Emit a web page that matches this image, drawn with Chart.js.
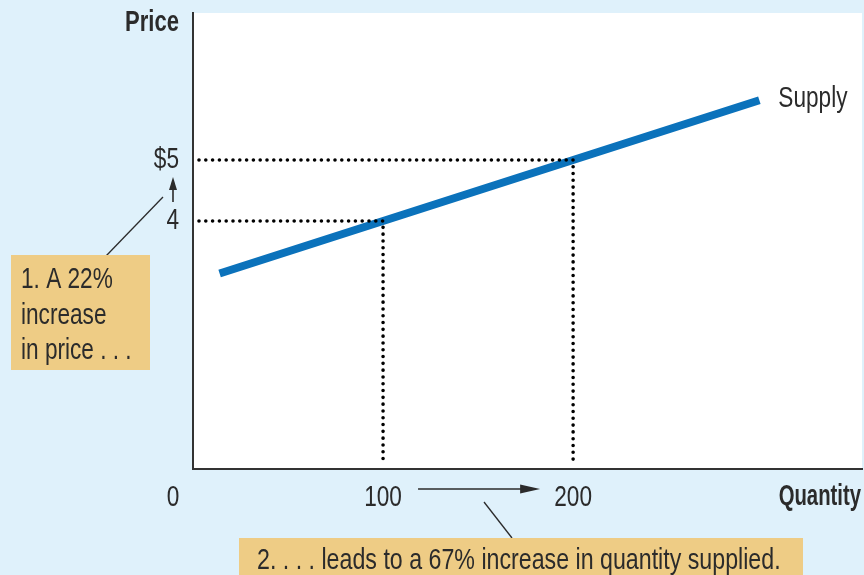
<!DOCTYPE html>
<html>
<head>
<meta charset="utf-8">
<script src="https://cdn.jsdelivr.net/npm/chart.js@4.4.1/dist/chart.umd.min.js"></script>
<style>
  html, body { margin: 0; padding: 0; background: #dff1fb; }
  #wrap { width: 864px; height: 575px; }
</style>
</head>
<body>
<div id="wrap"><canvas id="supplyChart" width="864" height="575"></canvas></div>
<script>
// data
var supplyQty = [14, 100, 200, 298];
var supplyPrice = [3.14, 4, 5, 5.98];
var xTicks = [0, 100, 200];
var xTickLabels = ['0', '100', '200'];
var yTicks = [4, 5];
var yTickLabels = ['4', '$5'];
var noteLow = { qty: 100, price: 4 };
var noteHigh = { qty: 200, price: 5 };
var priceNote = ['1. A 22%', 'increase', 'in price . . .'];
var qtyNote = '2. . . . leads to a 67% increase in quantity supplied.';

var FONT = '"Liberation Sans", Arial, sans-serif';
var INK = '#2b2b2b';

function toPoints(xs, ys) {
    return xs.map(function (x, i) { return { x: x, y: ys[i] }; });
}

// condensed text: the plain font squeezed sideways
function txt(c, s, x, y, align, bold, squeeze) {
    c.save();
    c.translate(x, y);
    c.scale(squeeze || (bold ? 0.72 : 0.78), 1);
    c.font = (bold ? 'bold ' : '') + '29px ' + FONT;
    c.textAlign = align || 'left';
    c.textBaseline = 'alphabetic';
    c.fillText(s, 0, 0);
    c.restore();
}

var dotted = {
    borderColor: '#000',
    borderWidth: 3.6,
    borderDash: [0, 6.8],
    borderDashOffset: -6,
    borderCapStyle: 'round',
    pointRadius: 0,
    showLine: true,
    fill: false,
    tension: 0
};

// draws background, labels, boxes and arrows
var decorPlugin = {
    id: 'decor',
    beforeDraw: function (chart) {
        var c = chart.ctx, a = chart.chartArea;
        c.save();
        c.fillStyle = '#dff1fb';
        c.fillRect(0, 0, chart.width, chart.height);
        c.fillStyle = '#ffffff';
        c.fillRect(a.left, a.top, a.right - a.left, a.bottom - a.top);
        c.restore();
    },
    afterDraw: function (chart) {
        var c = chart.ctx, a = chart.chartArea;
        var xs = chart.scales.x, ys = chart.scales.y;
        c.save();
        c.fillStyle = INK;
        c.strokeStyle = INK;

        // tick labels, placed by the scales
        xs.ticks.forEach(function (t) {
            var i = xTicks.indexOf(t.value);
            var px = xs.getPixelForValue(t.value);
            if (i === 0) px -= 20;
            txt(c, xTickLabels[i], px, a.bottom + 37, 'center');
        });
        ys.ticks.forEach(function (t) {
            var i = yTicks.indexOf(t.value);
            txt(c, yTickLabels[i], a.left - 14, ys.getPixelForValue(t.value) + 8, 'right');
        });

        // axis titles
        txt(c, 'Price', a.left - 14, 31, 'right', true, 0.76);
        txt(c, 'Quantity', chart.width - 3, 505, 'right', true, 0.7);

        // Supply label next to end of the line
        var last = supplyQty.length - 1;
        txt(c, 'Supply', xs.getPixelForValue(supplyQty[last]) + 19, ys.getPixelForValue(supplyPrice[last]) + 7, 'left');

        // arrow from 4 up to $5
        var ax = a.left - 20;
        var yFrom = ys.getPixelForValue(noteLow.price) - 19;
        var yTo = ys.getPixelForValue(noteHigh.price) + 17;
        c.lineWidth = 1.6;
        c.beginPath(); c.moveTo(ax, yFrom); c.lineTo(ax, yTo + 8); c.stroke();
        c.beginPath(); c.moveTo(ax, yTo); c.lineTo(ax - 4, yTo + 13); c.lineTo(ax + 4, yTo + 13); c.closePath(); c.fill();

        // arrow from 100 to 200
        var ay = 489;
        var xFrom = xs.getPixelForValue(noteLow.qty) + 35;
        var xTo = xs.getPixelForValue(noteHigh.qty) - 33;
        c.beginPath(); c.moveTo(xFrom, ay); c.lineTo(xTo - 8, ay); c.stroke();
        c.beginPath(); c.moveTo(xTo, ay); c.lineTo(xTo - 20, ay - 4.5); c.lineTo(xTo - 20, ay + 4.5); c.closePath(); c.fill();

        // connector lines
        c.lineWidth = 1.3;
        c.beginPath(); c.moveTo(106, 256); c.lineTo(163, 197); c.stroke();
        c.beginPath(); c.moveTo(484, 502); c.lineTo(512, 538); c.stroke();

        // note boxes
        c.fillStyle = '#eecc85';
        c.fillRect(11, 255, 139, 115);
        c.fillRect(239, 538, 564, 40);

        c.fillStyle = INK;
        priceNote.forEach(function (line, i) {
            txt(c, line, 21, 288 + i * 35.5, 'left');
        });
        txt(c, qtyNote, 257, 569, 'left', false, 0.8);
        c.restore();
    }
};

var ctx = document.getElementById('supplyChart').getContext('2d');
var chart = new Chart(ctx, {
    type: 'scatter',
    data: {
        datasets: [
            Object.assign({ label: 'high', data: toPoints([0, noteHigh.qty, noteHigh.qty], [noteHigh.price, noteHigh.price, 0]) }, dotted),
            Object.assign({ label: 'low', data: toPoints([0, noteLow.qty, noteLow.qty], [noteLow.price, noteLow.price, 0]) }, dotted),
            {
                label: 'Supply',
                data: toPoints(supplyQty, supplyPrice),
                showLine: true,
                borderColor: '#0b72bb',
                borderWidth: 8,
                borderCapStyle: 'butt',
                pointRadius: 0,
                tension: 0
            }
        ]
    },
    options: {
        responsive: false,
        animation: false,
        clip: false,
        layout: { padding: { top: 13, right: 2, left: 0, bottom: 0 } },
        plugins: {
            legend: { display: false },
            tooltip: { enabled: false }
        },
        scales: {
            x: {
                type: 'linear',
                min: 0,
                max: 352,
                afterBuildTicks: function (scale) {
                    scale.ticks = xTicks.map(function (v) { return { value: v }; });
                },
                afterFit: function (scale) { scale.height = 106; },
                grid: { display: false, drawTicks: false },
                border: { display: true, color: '#333', width: 2 },
                ticks: { display: false }
            },
            y: {
                type: 'linear',
                min: -0.065,
                max: 7.41,
                afterBuildTicks: function (scale) {
                    scale.ticks = yTicks.map(function (v) { return { value: v }; });
                },
                afterFit: function (scale) { scale.width = 193; },
                grid: { display: false, drawTicks: false },
                border: { display: true, color: '#333', width: 2 },
                ticks: { display: false }
            }
        }
    },
    plugins: [decorPlugin]
});
</script>
</body>
</html>
